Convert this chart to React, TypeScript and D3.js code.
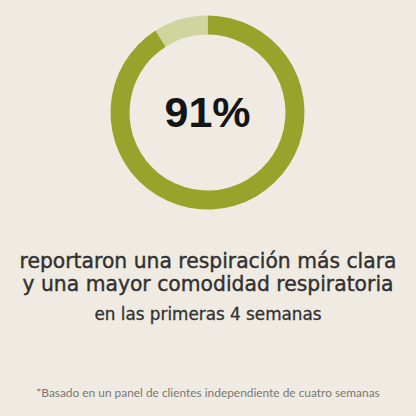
import React from "react";
import * as d3 from "d3";

const segments = ["reportaron", "resto"];
const values = [91, 9];
const centerLabel = "91%";
const captionLines = [
  "reportaron una respiración más clara",
  "y una mayor comodidad respiratoria",
];
const subCaption = "en las primeras 4 semanas";
const footnote = "*Basado en un panel de clientes independiente de cuatro semanas";

const W = 416;
const H = 416;
const colors = ["#97a32b", "#cfd59c"];

export default function App() {
  const pie = d3.pie<number>().sort(null).value((d) => d)(values);
  const arc = d3.arc<d3.PieArcDatum<number>>().innerRadius(78).outerRadius(97);
  const cx = 207.5;
  const cy = 112.5;
  return (
    <svg
      width={W}
      height={H}
      style={{ position: "fixed", left: 0, top: 0, display: "block" }}
    >
      <rect x={0} y={0} width={W} height={H} fill="#efebe2" />
      <g transform={`translate(${cx},${cy})`}>
        {pie.map((p, i) => (
          <path key={segments[i]} d={arc(p) || ""} fill={colors[i]} />
        ))}
        <text
          x={0}
          y={14}
          textAnchor="middle"
          fontFamily="'Liberation Sans', Arial, sans-serif"
          fontWeight={700}
          fontSize={43}
          fill="#141414"
        >
          {centerLabel}
        </text>
      </g>
      {captionLines.map((t, i) => (
        <text
          key={i}
          x={208}
          y={268 + i * 23}
          textAnchor="middle"
          fontFamily="'DejaVu Sans', sans-serif"
          fontSize={20.5}
          fill="#333130"
          stroke="#333130"
          strokeWidth={0.4}
          textLength={i === 0 ? 377 : 371}
          lengthAdjust="spacingAndGlyphs"
        >
          {t}
        </text>
      ))}
      <text
        x={208}
        y={320}
        textAnchor="middle"
        fontFamily="'DejaVu Sans', sans-serif"
        fontSize={17}
        fill="#333130"
        stroke="#333130"
        strokeWidth={0.3}
        textLength={227}
        lengthAdjust="spacingAndGlyphs"
      >
        {subCaption}
      </text>
      <text
        x={208}
        y={397}
        textAnchor="middle"
        fontFamily="Lato, sans-serif"
        fontSize={11.9}
        fill="#7a7773"
      >
        {footnote}
      </text>
    </svg>
  );
}
